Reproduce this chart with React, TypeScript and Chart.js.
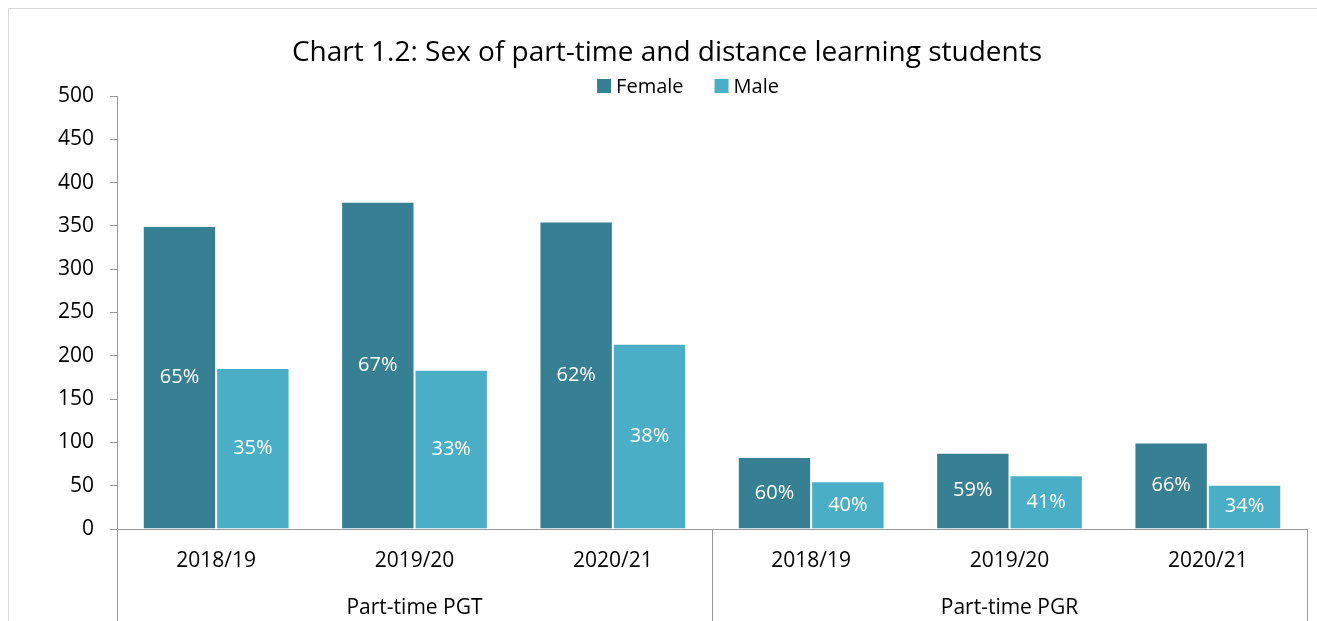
import React, { useEffect, useRef } from "react";
import { Chart, registerables } from "chart.js";

Chart.register(...registerables);

const TITLE = "Chart 1.2: Sex of part-time and distance learning students";
const years = ["2018/19", "2019/20", "2020/21", "2018/19", "2019/20", "2020/21"];
const groups = ["Part-time PGT", "Part-time PGR"];
const groupSize = 3;
const femaleValues = [350, 378, 355, 83, 88, 100];
const maleValues = [186, 184, 214, 55, 62, 51];
const femalePct = [65, 67, 62, 60, 59, 66];
const malePct = [35, 33, 38, 40, 41, 34];
const yTicks = [0, 50, 100, 150, 200, 250, 300, 350, 400, 450, 500];

const FONT = "'Open Sans', sans-serif";
const AXIS_COLOR = "#9a9a9a";
const FEMALE_COLOR = "#377f93";
const MALE_COLOR = "#4aafc6";

const pctLabels = [femalePct, malePct];

const decorPlugin = {
  id: "decor",
  afterDatasetsDraw(chart: any) {
    const ctx = chart.ctx;
    ctx.save();
    ctx.fillStyle = "#ffffff";
    ctx.font = `20px ${FONT}`;
    ctx.textAlign = "center";
    ctx.textBaseline = "middle";
    chart.data.datasets.forEach((ds: any, di: number) => {
      const meta = chart.getDatasetMeta(di);
      meta.data.forEach((el: any, i: number) => {
        const y = (el.y + el.base) / 2;
        ctx.fillText(`${pctLabels[di][i]}%`, el.x, y);
      });
    });
    ctx.restore();
  },
  afterDraw(chart: any) {
    const ctx = chart.ctx;
    const area = chart.chartArea;
    const xs = chart.scales.x;
    const H = chart.height;
    ctx.save();
    // group separators
    ctx.strokeStyle = AXIS_COLOR;
    ctx.lineWidth = 1;
    const bounds: number[] = [area.left];
    for (let g = 1; g < groups.length; g++) {
      const a = xs.getPixelForValue(g * groupSize - 1);
      const b = xs.getPixelForValue(g * groupSize);
      bounds.push((a + b) / 2);
    }
    bounds.push(area.right);
    bounds.forEach((x) => {
      const px = Math.round(x) + 0.5;
      ctx.beginPath();
      ctx.moveTo(px, area.bottom);
      ctx.lineTo(px, H);
      ctx.stroke();
    });
    // group labels
    ctx.fillStyle = "#000000";
    ctx.font = `21px ${FONT}`;
    ctx.textAlign = "center";
    ctx.textBaseline = "middle";
    groups.forEach((g, i) => {
      const cx = (bounds[i] + bounds[i + 1]) / 2;
      ctx.fillText(g, cx, area.bottom + 79);
    });
    // legend
    ctx.font = `20px ${FONT}`;
    ctx.textAlign = "left";
    const box = 14;
    const gapText = 5;
    const gapItem = 31;
    const items = chart.data.datasets.map((ds: any) => ({
      label: ds.label,
      color: ds.backgroundColor,
      w: box + gapText + ctx.measureText(ds.label).width,
    }));
    const total = items.reduce((s: number, it: any) => s + it.w, 0) + gapItem * (items.length - 1);
    let x = 679 - total / 2;
    const ly = 77;
    items.forEach((it: any) => {
      ctx.fillStyle = it.color;
      ctx.fillRect(x, ly - box / 2, box, box);
      ctx.fillStyle = "#000000";
      ctx.fillText(it.label, x + box + gapText, ly + 1);
      x += it.w + gapItem;
    });
    ctx.restore();
  },
};

export default function App() {
  const ref = useRef<HTMLCanvasElement | null>(null);
  useEffect(() => {
    if (!ref.current) return;
    const chart = new Chart(ref.current, {
      type: "bar",
      data: {
        labels: years,
        datasets: [
          {
            label: "Female",
            data: femaleValues,
            backgroundColor: FEMALE_COLOR,
            borderColor: "rgba(255,255,255,0.5)",
            borderWidth: 1,
            categoryPercentage: 0.74,
            barPercentage: 1,
          },
          {
            label: "Male",
            data: maleValues,
            backgroundColor: MALE_COLOR,
            borderColor: "rgba(255,255,255,0.5)",
            borderWidth: 1,
            categoryPercentage: 0.74,
            barPercentage: 1,
          },
        ],
      },
      options: {
        animation: false,
        responsive: true,
        maintainAspectRatio: false,
        layout: { padding: { left: 18, right: 10, top: 0, bottom: 0 } },
        plugins: {
          legend: { display: false },
          tooltip: { enabled: false },
          title: {
            display: true,
            text: TITLE,
            color: "#000000",
            font: { family: FONT, size: 28, weight: "normal" },
            padding: { top: 27, bottom: 26.4 },
          },
        },
        scales: {
          x: {
            grid: { display: false, drawTicks: false },
            border: { display: true, color: AXIS_COLOR, width: 1 },
            ticks: {
              color: "#000000",
              font: { family: FONT, size: 21 },
              padding: 19,
              maxRotation: 0,
              autoSkip: false,
            },
            afterFit: (s: any) => {
              s.height = 92;
            },
          },
          y: {
            min: 0,
            max: 500,
            afterBuildTicks: (s: any) => {
              s.ticks = yTicks.map((v) => ({ value: v }));
            },
            grid: {
              display: true,
              drawOnChartArea: false,
              drawTicks: true,
              tickLength: 7,
              color: AXIS_COLOR,
            },
            border: { display: true, color: AXIS_COLOR, width: 1 },
            ticks: {
              color: "#000000",
              font: { family: FONT, size: 21 },
              padding: 16,
            },
            afterFit: (s: any) => {
              s.width = 90;
            },
          },
        },
      },
      plugins: [decorPlugin],
    });
    return () => chart.destroy();
  }, []);
  return (
    <div
      style={{
        position: "fixed",
        left: 8,
        top: 8,
        width: 1308,
        height: 612,
        borderTop: "1px solid #d9d9d9",
        borderLeft: "1px solid #d9d9d9",
        background: "#ffffff",
      }}
    >
      <canvas ref={ref} />
    </div>
  );
}
